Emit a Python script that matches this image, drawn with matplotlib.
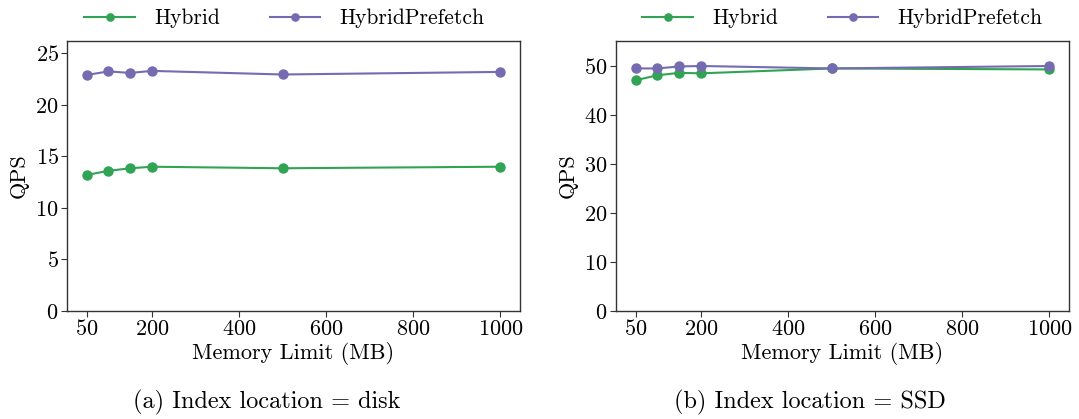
import matplotlib
matplotlib.use("Agg")
import matplotlib.pyplot as plt

plt.rcParams["font.family"] = ["cmr10", "DejaVu Serif"]
plt.rcParams["mathtext.fontset"] = "cm"
plt.rcParams["axes.formatter.use_mathtext"] = True

memory_mb = [50, 100, 150, 200, 500, 1000]
xtick_values = [50, 200, 400, 600, 800, 1000]

disk_hybrid = [13.2, 13.6, 13.85, 14.0, 13.85, 14.0]
disk_prefetch = [22.9, 23.25, 23.1, 23.3, 22.95, 23.2]

ssd_hybrid = [47.1, 48.1, 48.6, 48.5, 49.5, 49.3]
ssd_prefetch = [49.5, 49.5, 49.9, 50.0, 49.5, 50.0]

series_labels = ["Hybrid", "HybridPrefetch"]
colors = ["#31a354", "#756bb1"]
captions = ["(a) Index location = disk", "(b) Index location = SSD"]

fig = plt.figure(figsize=(10.79, 4.19), dpi=100)
ax1 = fig.add_axes([67 / 1079, 1 - 311 / 419, 453 / 1079, 270 / 419])
ax2 = fig.add_axes([616 / 1079, 1 - 311 / 419, 453 / 1079, 270 / 419])

panels = [
    (ax1, disk_hybrid, disk_prefetch, (0, 26.2), [0, 5, 10, 15, 20, 25], 0.48),
    (ax2, ssd_hybrid, ssd_prefetch, (0, 55.1), [0, 10, 20, 30, 40, 50], 0.5),
]

for ax, hyb, pre, ylim, yt, lx in panels:
    for vals, lab, c in zip([hyb, pre], series_labels, colors):
        ax.plot(memory_mb, vals, marker="o", markersize=6.5, linewidth=1.5,
                color=c, label=lab)
    ax.set_xlim(5, 1045)
    ax.set_ylim(*ylim)
    ax.set_xticks(xtick_values)
    ax.set_yticks(yt)
    ax.tick_params(labelsize=16, color="#333333", length=4, pad=2)
    for s in ax.spines.values():
        s.set_color("#333333")
        s.set_linewidth(1.0)
    ax.set_xlabel("Memory Limit (MB)", fontsize=16, labelpad=2)
    ax.set_ylabel("QPS", fontsize=16, labelpad=5)
    ax.legend(loc="lower center", bbox_to_anchor=(lx, 1.0), ncol=2,
              frameon=False, fontsize=15.5, handlelength=2.35, columnspacing=2.3,
              handletextpad=0.9, borderaxespad=0.2, markerscale=0.8)

fig.text(267 / 1079, 1 - 402 / 419, captions[0], ha="center", va="center", fontsize=17.5)
fig.text(810 / 1079, 1 - 402 / 419, captions[1], ha="center", va="center", fontsize=17.5)

fig.savefig("out.png", dpi=100)
